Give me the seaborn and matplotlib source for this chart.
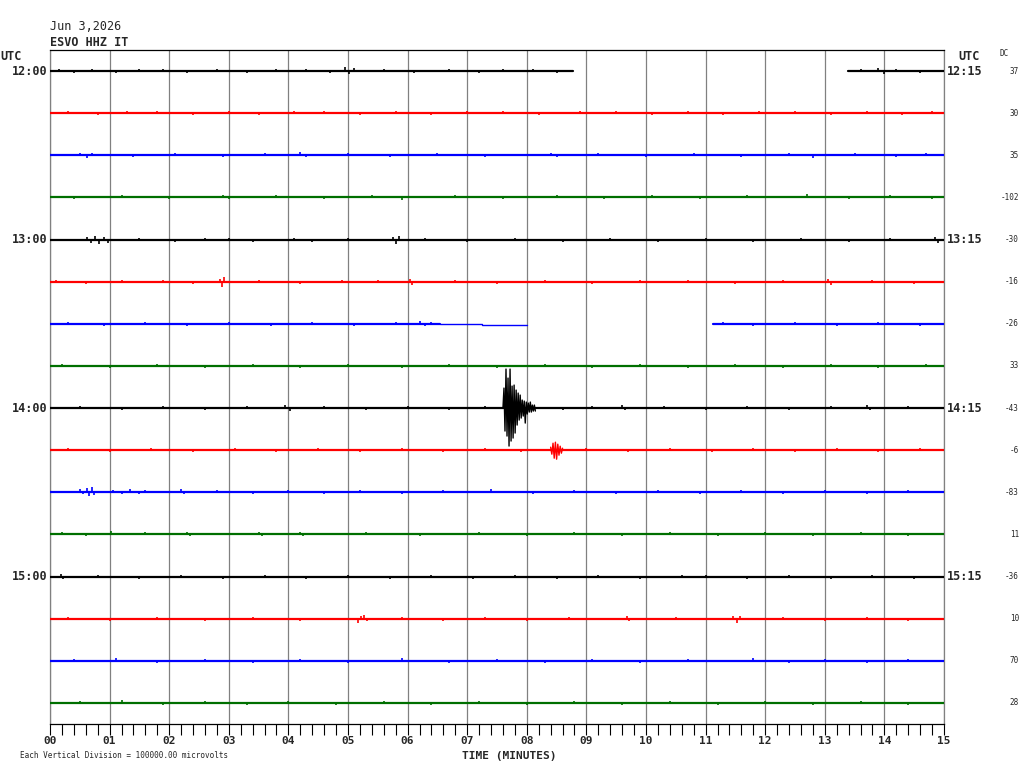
import numpy as np
import pandas as pd
import seaborn as sns
import matplotlib.pyplot as plt

date_label = "Jun 3,2026"
station = "ESVO HHZ IT"
n_lines = 16
left_times = {0: "12:00", 4: "13:00", 8: "14:00", 12: "15:00"}
right_times = {0: "12:15", 4: "13:15", 8: "14:15", 12: "15:15"}
dc_values = [37, 30, 35, -102, -30, -16, -26, 33, -43, -6, -83, 11, -36, 10, 70, 28]
minute_labels = ["%02d" % m for m in range(16)]
line_colors = ["black", "red", "blue", "#006f00"]

# recorded stretches (minutes); lines not listed run the full 15 minutes
segments = {0: [(0, 8.78), (13.39, 15)], 6: [(0, 6.54), (11.13, 15)]}
# flat (dead) signal on line 6: minute start, minute end, level in pixels
flat_parts = [(6, 6.54, 7.25, 0), (6, 7.25, 8.0, -1)]

# noise spikes per line: (minute, amplitude in pixels, + is up)
spikes = {
    0: [(0.15, 2), (0.4, -2), (0.7, 2), (1.1, -2), (1.5, 2), (1.9, 2), (2.3, -2), (2.8, 2),
        (3.3, -2), (3.8, 2), (4.3, 2), (4.7, -2), (4.95, 4), (5.02, -3), (5.1, 3), (5.6, 2),
        (6.1, -2), (6.7, 2), (7.2, -2), (7.6, 2), (8.1, 2), (8.5, -2), (13.6, 2), (13.9, 3),
        (14.0, -3), (14.2, 2), (14.6, -2)],
    1: [(0.3, 2), (0.8, -2), (1.3, 2), (1.8, 2), (2.4, -2), (3.0, 2), (3.5, -2), (4.1, 2),
        (4.6, 2), (5.2, -2), (5.8, 2), (6.4, -2), (7.0, 2), (7.6, 2), (8.2, -2), (8.9, 2),
        (9.5, 2), (10.1, -2), (10.7, 2), (11.3, -2), (11.9, 2), (12.5, 2), (13.1, -2),
        (13.7, 2), (14.3, -2), (14.8, 2)],
    2: [(0.5, 2), (0.62, -3), (0.7, 2), (1.4, -2), (2.1, 2), (2.9, -2), (3.6, 2), (4.2, 3),
        (4.3, -2), (5.0, 2), (5.7, -2), (6.5, 2), (7.3, -2), (8.4, 2), (8.5, -2), (9.2, 2),
        (10.0, -2), (10.8, 2), (11.6, -2), (12.4, 2), (12.8, -3), (13.5, 2), (14.2, -2),
        (14.7, 2)],
    3: [(0.4, -2), (1.2, 2), (2.0, -2), (2.9, 2), (3.0, -2), (3.8, 2), (4.6, -2), (5.4, 2),
        (5.9, -3), (6.8, 2), (7.6, -2), (8.5, 2), (9.3, -2), (10.1, 2), (10.9, -2), (11.7, 2),
        (12.7, 3), (13.4, -2), (14.1, 2), (14.8, -2)],
    4: [(0.62, 3), (0.68, -3), (0.75, 4), (0.82, -4), (0.9, 3), (0.97, -3), (1.5, 2), (2.1, -2),
        (2.6, 2), (3.0, 2), (3.4, -2), (4.1, 2), (4.4, -2), (5.0, 2), (5.76, 3), (5.8, -4),
        (5.85, 4), (6.3, 2), (7.0, -2), (7.8, 2), (8.6, -2), (9.4, 2), (10.2, -2), (11.0, 2),
        (11.8, -2), (12.6, 2), (13.4, -2), (14.1, 2), (14.85, 3), (14.9, -3)],
    5: [(0.1, 2), (0.6, -2), (1.2, 2), (1.9, 2), (2.4, -2), (2.85, 3), (2.88, -5), (2.92, 5),
        (3.5, 2), (4.2, -2), (4.9, 2), (5.5, 2), (6.04, 3), (6.08, -3), (6.8, 2), (7.5, -2),
        (8.3, 2), (9.1, -2), (9.9, 2), (10.7, 2), (11.5, -2), (12.3, 2), (13.05, 3),
        (13.1, -3), (13.8, 2), (14.5, -2)],
    6: [(0.3, 2), (0.9, -2), (1.6, 2), (2.3, -2), (3.0, 2), (3.7, -2), (4.4, 2), (5.1, -2),
        (5.8, 2), (6.2, 3), (6.3, -2), (6.4, 2), (11.3, 2), (11.8, -2), (12.5, 2), (13.2, -2),
        (13.9, 2), (14.6, -2)],
    7: [(0.2, 2), (1.0, -2), (1.8, 2), (2.6, -2), (3.4, 2), (4.2, -2), (5.0, 2), (5.9, -2),
        (6.7, 2), (7.5, -2), (8.3, 2), (9.1, -2), (9.9, 2), (10.7, -2), (11.5, 2), (12.3, -2),
        (13.1, 2), (13.9, -2), (14.7, 2)],
    8: [(0.5, 2), (1.2, -2), (1.9, 2), (2.6, -2), (3.3, 2), (3.95, 3), (4.02, -3), (4.6, 2),
        (5.3, -2), (6.0, 2), (6.7, -2), (7.3, 2), (8.6, -2), (9.1, 2), (9.6, 3), (9.65, -2),
        (10.3, 2), (11.0, -2), (11.7, 2), (12.4, -2), (13.1, 2), (13.7, 3), (13.75, -2),
        (14.4, 2)],
    9: [(0.3, 2), (1.0, -2), (1.7, 2), (2.4, -2), (3.1, 2), (3.8, -2), (4.5, 2), (5.2, -2),
        (5.9, 2), (6.6, -2), (7.3, 2), (7.9, -2), (9.0, 2), (9.7, -2), (10.4, 2), (11.1, -2),
        (11.8, 2), (12.5, -2), (13.2, 2), (13.9, -2), (14.6, 2)],
    10: [(0.5, 3), (0.55, -2), (0.62, 4), (0.66, -4), (0.7, 5), (0.74, -3), (1.05, 2),
         (1.2, -2), (1.35, 3), (1.5, -2), (1.6, 2), (2.2, 3), (2.25, -2), (2.8, 2), (3.4, -2),
         (4.0, 2), (4.6, -2), (5.2, 2), (5.9, -2), (6.6, 2), (7.4, 3), (8.1, -2), (8.8, 2),
         (9.5, -2), (10.2, 2), (10.9, -2), (11.6, 2), (12.3, -2), (13.0, 2), (13.7, -2),
         (14.4, 2)],
    11: [(0.2, 2), (0.6, -2), (1.03, 3), (1.6, 2), (2.3, 2), (2.35, -2), (3.5, 2), (3.55, -2),
         (4.2, 2), (4.25, -2), (5.3, 2), (6.2, -2), (7.2, 2), (8.0, -2), (8.8, 2), (9.6, -2),
         (10.4, 2), (11.2, -2), (12.0, 2), (12.8, -2), (13.6, 2), (14.4, -2)],
    12: [(0.18, 3), (0.22, -2), (0.8, 2), (1.5, -2), (2.2, 2), (2.9, -2), (3.6, 2), (4.3, -2),
         (5.0, 2), (5.7, -2), (6.4, 2), (7.1, -2), (7.8, 2), (8.5, -2), (9.2, 2), (9.9, -2),
         (10.6, 2), (11.0, 2), (11.7, -2), (12.4, 2), (13.1, -2), (13.8, 2), (14.5, -2)],
    13: [(0.3, 2), (1.0, -2), (1.8, 2), (2.6, -2), (3.4, 2), (4.2, -2), (5.17, -4), (5.22, 3),
         (5.27, 4), (5.32, -2), (5.9, 2), (6.6, -2), (7.3, 2), (8.0, -2), (8.7, 2), (9.68, 3),
         (9.72, -2), (10.5, 2), (11.46, 3), (11.52, -4), (11.58, 3), (12.3, 2), (13.0, -2),
         (13.7, 2), (14.4, -2)],
    14: [(0.4, 2), (1.1, 3), (1.8, -2), (2.6, 2), (3.4, -2), (4.2, 2), (5.0, -2), (5.9, 3),
         (6.7, -2), (7.5, 2), (8.3, -2), (9.1, 2), (9.9, -2), (10.7, 2), (11.8, 3), (12.4, -2),
         (13.0, 2), (13.7, -2), (14.4, 2)],
    15: [(0.5, 2), (1.2, 3), (1.9, -2), (2.6, 2), (3.3, -2), (4.0, 2), (4.8, -2), (5.6, 2),
         (6.4, -2), (7.2, 2), (8.0, -2), (8.8, 2), (9.6, -2), (10.4, 2), (11.2, -2), (12.0, 2),
         (12.8, -2), (13.6, 2), (14.4, -2)],
}

# earthquake on the 14:00 line (minute, pixels)
quake_t = [7.600, 7.617, 7.634, 7.651, 7.668, 7.685, 7.702, 7.719, 7.736, 7.753, 7.770,
           7.787, 7.804, 7.821, 7.838, 7.855, 7.872, 7.889, 7.906, 7.923, 7.940, 7.957,
           7.974, 7.991, 8.008, 8.025, 8.042, 8.059, 8.076, 8.093, 8.110, 8.127, 8.144]
quake_a = [0, 20, -23, 39, -28, 30, -38, 39, -33, 22, -30, 23, -25, 18, -17, 15, -12, 13,
           -10, 8, -8, 7, -15, 6, -6, 5, -4, 6, -4, 3, -3, 3, -3]
# smaller arrival on the next line
small_t = [8.40, 8.42, 8.44, 8.46, 8.48, 8.50, 8.52, 8.54, 8.56, 8.58, 8.60]
small_a = [3, -4, 7, -8, 8, -9, 6, -5, 4, -3, 2]

px = 1 / 42.13  # one pixel in trace-spacing units

sns.set_theme(style="white")
plt.rcParams["font.family"] = ["DejaVu Sans Mono", "DejaVu Sans"]

fig = plt.figure(figsize=(10.24, 7.68), dpi=100)
ax = fig.add_axes([50 / 1024, 44 / 768, 894 / 1024, 674 / 768])

for i in range(n_lines):
    col = line_colors[i % 4]
    off = -i
    for s, e in segments.get(i, [(0, 15)]):
        seg = pd.DataFrame({"t": [s, e], "y": [off, off]})
        sns.lineplot(data=seg, x="t", y="y", color=col, lw=1.6, ax=ax, zorder=3)
    sp = pd.DataFrame(spikes[i], columns=["t", "a"])
    ax.vlines(sp["t"], off, off + sp["a"] * px, color=col, lw=1.2, zorder=3)

for i, s, e, lvl in flat_parts:
    seg = pd.DataFrame({"t": [s, e], "y": [-i + lvl * px] * 2})
    sns.lineplot(data=seg, x="t", y="y", color=line_colors[i % 4], lw=1.0, ax=ax, zorder=3)

q = pd.DataFrame({"t": quake_t, "y": -8 + np.array(quake_a) * px})
sns.lineplot(data=q, x="t", y="y", color="black", lw=1.0, estimator=None, ax=ax, zorder=4)
q2 = pd.DataFrame({"t": small_t, "y": -9 + np.array(small_a) * px})
sns.lineplot(data=q2, x="t", y="y", color="red", lw=1.0, estimator=None, ax=ax, zorder=4)

ax.set_xlim(0, 15)
ax.set_ylim(-15.5, 0.5)
ax.set_xlabel("")
ax.set_ylabel("")
ax.set_yticks([])
ax.set_xticks(range(16))
ax.set_xticks(np.arange(0, 15.01, 0.2), minor=True)
ax.set_xticklabels(minute_labels, fontweight="bold", fontsize=8)
ax.tick_params(axis="x", which="both", direction="out", length=8, width=0.8,
               color="black", bottom=True, pad=0.5)
ax.grid(axis="x", which="major", color="#808080", lw=0.9)
ax.grid(axis="y", visible=False)
for side in ["top", "bottom"]:
    ax.spines[side].set_color("black")
    ax.spines[side].set_linewidth(0.9)
for side in ["left", "right"]:
    ax.spines[side].set_color("#808080")
    ax.spines[side].set_linewidth(0.9)

for i in range(n_lines):
    if i in left_times:
        ax.annotate(left_times[i], (0, -i), xycoords=("axes fraction", "data"),
                    xytext=(-1.5, 0), textcoords="offset points", ha="right", va="center",
                    fontsize=8.5, fontweight="bold")
        ax.annotate(right_times[i], (1, -i), xycoords=("axes fraction", "data"),
                    xytext=(2, 0), textcoords="offset points", ha="left", va="center",
                    fontsize=8.5, fontweight="bold")
    ax.annotate(str(dc_values[i]), (1, -i), xycoords=("axes fraction", "data"),
                xytext=(54, 0), textcoords="offset points", ha="right", va="center",
                fontsize=5.5)

fig.text(50 / 1024, 1 - 26 / 768, date_label, fontsize=8.5, va="center", ha="left")
fig.text(50 / 1024, 1 - 42 / 768, station, fontsize=8.5, va="center", ha="left",
         fontweight="bold")
fig.text(0, 1 - 57 / 768, "UTC", fontsize=8.5, va="center", ha="left", fontweight="bold")
fig.text(958 / 1024, 1 - 57 / 768, "UTC", fontsize=8.5, va="center", ha="left",
         fontweight="bold")
fig.text(1000 / 1024, 1 - 54 / 768, "DC", fontsize=5.5, va="center", ha="left")
fig.text(509 / 1024, 1 - 756 / 768, "TIME (MINUTES)", fontsize=8, va="center",
         ha="center", fontweight="bold")
fig.text(20 / 1024, 1 - 755 / 768, "Each Vertical Division = 100000.00 microvolts",
         fontsize=5.5, va="center", ha="left")

fig.savefig("out.png", dpi=100, facecolor="white")
